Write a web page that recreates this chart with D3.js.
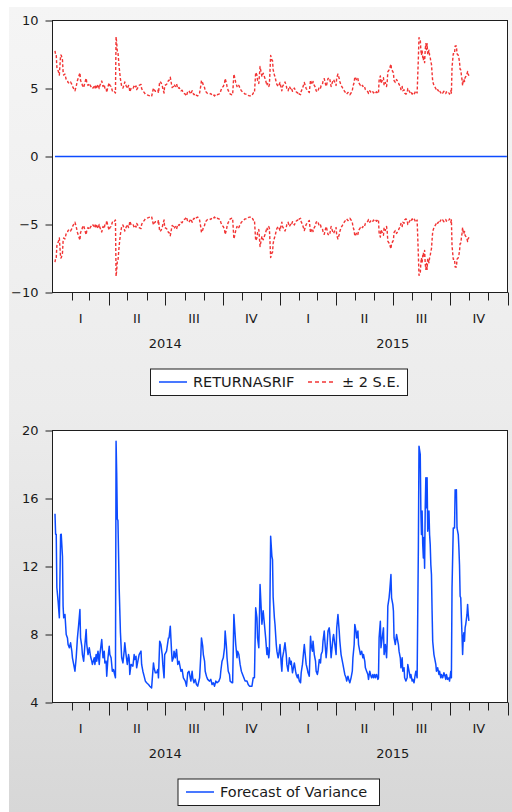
<!DOCTYPE html>
<html>
<head>
<meta charset="utf-8">
<script src="https://cdn.jsdelivr.net/npm/d3@7"></script>
<style>
body{margin:0;background:#fff;}
svg{display:block;}
text{font-family:"DejaVu Sans",sans-serif;fill:#1a1a1a;}
</style>
</head>
<body>
<div id="chart"></div>
<script>
var obsDay = [4,5,6,7,9,11,13,14,16,17,18,20,22,24,25,27,29,31,32,34,36,38,40,42,44,45,47,48,50,52,54,55,57,59,61,63,64,67,68,70,71,73,75,76,78,79,81,83,84,86,87,89,91,92,94,96,98,99,101,102,103,104,105,107,109,111,113,115,116,118,120,122,123,124,126,129,131,132,134,135,137,139,142,143,145,147,149,151,154,156,159,161,162,163,165,167,169,170,172,174,176,177,179,180,183,186,187,189,191,192,194,195,197,199,201,203,206,208,210,213,215,217,219,222,224,225,227,229,231,233,236,238,239,241,242,244,245,247,249,252,254,256,258,260,262,264,267,269,270,272,274,276,277,279,280,282,284,285,288,289,291,292,294,296,297,299,301,303,305,307,309,312,314,316,320,322,324,326,328,329,331,332,333,334,336,338,340,342,344,345,347,348,350,352,353,354,356,357,359,360,362,363,365,367,368,369,371,373,375,376,378,380,382,383,385,386,388,390,391,393,394,396,398,399,401,402,404,406,407,409,410,412,414,415,417,418,420,422,423,425,426,428,430,431,433,434,436,437,439,440,442,444,445,447,448,450,451,453,455,456,458,460,461,463,464,466,468,469,471,472,474,476,477,479,481,482,484,485,487,488,490,491,493,494,496,498,499,501,502,504,506,507,509,511,512,514,515,517,518,520,522,523,524,526,527,529,531,532,534,536,537,538,540,541,543,544,546,547,548,550,552,553,555,556,558,559,561,562,564,565,567,569,570,572,574,575,577,578,580,582,583,585,587,588,590,591,592,593,594,595,596,597,598,599,600,601,602,604,605,606,607,608,609,610,612,613,615,616,618,620,621,623,624,626,628,629,631,632,634,636,637,639,640,641,643,645,646,647,648,649,651,652,653,654,655,656,657,658,659,660,661,662,663,665,666,667,668];
var variance = [15.1,13.9,13.9,10.75,9.96,8.98,13.88,13.9,12.6,9.67,8.98,9.18,8.0,7.8,7.41,7.22,7.51,7.02,6.63,6.24,5.84,6.63,7.8,8.59,9.47,7.8,7.31,6.82,6.43,7.41,8.29,7.41,6.82,7.22,6.72,6.43,6.24,6.63,6.24,6.82,6.43,7.02,6.24,6.82,7.41,7.7,6.63,7.02,6.33,6.43,5.55,6.63,7.31,6.82,6.63,5.84,5.94,5.75,5.45,19.37,17.5,14.8,14.7,10.7,8.1,6.63,6.33,7.02,7.51,6.82,6.24,6.82,6.63,5.65,6.24,6.14,6.82,6.53,6.72,6.04,6.43,6.82,7.02,6.24,5.84,5.55,5.26,5.16,5.06,4.96,4.86,5.84,6.33,6.04,5.75,5.75,5.94,5.45,7.61,7.41,6.82,6.24,5.45,6.82,7.02,7.8,7.8,8.49,7.02,6.43,6.63,7.02,6.63,7.12,6.24,6.43,5.84,5.94,5.45,5.26,4.96,5.75,5.84,5.26,5.84,5.45,5.16,5.36,5.06,4.96,5.45,6.82,7.8,7.31,6.82,6.43,5.84,5.55,5.36,5.26,5.36,5.06,5.16,4.96,5.26,5.16,5.26,5.45,5.84,6.43,6.63,7.22,8.2,7.31,6.63,5.84,5.65,5.26,5.16,5.16,9.18,8.59,7.41,6.63,7.02,6.82,6.24,5.84,5.65,5.45,5.26,5.26,5.06,4.96,4.96,5.45,5.45,9.57,8.98,7.8,7.22,8.98,10.94,10.16,8.6,9.4,8.6,7.8,6.82,7.22,6.63,7.02,13.78,12.6,12.4,10.2,8.98,8.59,7.41,7.02,6.63,6.82,7.41,6.24,5.84,6.63,7.02,7.51,6.82,6.24,5.84,6.63,6.24,6.43,5.75,5.94,6.33,5.84,5.65,5.45,5.65,5.26,5.16,5.75,6.24,6.63,7.41,6.63,6.24,5.94,5.75,5.55,7.9,7.41,7.02,7.61,6.82,6.43,5.84,5.65,5.84,6.53,6.33,6.82,7.02,7.61,8.2,7.61,6.63,7.02,8.2,8.39,8.0,6.63,7.02,7.8,8.0,7.41,6.82,8.39,9.18,8.2,7.61,6.82,6.63,6.24,5.84,5.65,5.45,5.26,5.55,5.26,5.16,5.45,5.84,6.63,7.41,8.59,8.2,7.8,8.2,7.41,7.02,6.82,7.02,6.63,6.82,6.43,6.04,5.84,5.65,5.36,5.84,5.55,5.45,5.65,5.45,5.65,5.45,5.65,5.36,5.45,7.8,8.78,7.22,7.8,8.39,6.82,7.41,6.63,7.61,9.67,10.16,10.55,11.53,10.16,9.77,9.38,7.8,7.41,8.0,7.8,7.41,7.02,6.63,6.04,6.63,5.84,6.04,5.45,5.26,5.45,6.24,5.84,5.45,5.65,5.26,5.36,5.16,5.65,5.84,5.45,13.1,19.08,18.59,15.26,13.88,15.26,13.3,12.5,13.7,11.9,15.45,17.22,15.45,17.22,14.08,15.26,13.88,13.3,12.1,11.53,9.38,7.6,6.82,6.63,6.24,5.84,6.04,5.65,5.84,5.45,5.65,5.45,5.75,5.65,5.36,5.65,5.36,5.45,5.26,5.84,5.45,10.75,14.27,14.27,16.52,16.43,16.52,14.27,13.88,13.1,12.1,10.25,10.16,8.98,8.0,6.82,7.8,8.1,7.6,8.4,8.6,9.18,9.77,9.18,8.8];
// point forecast of RETURNASRIF (flat zero over the sample)
var meanDay = [4, 729];
var meanForecast = [0, 0];

var topTicks = [-10, -5, 0, 5, 10];
var bottomTicks = [4, 8, 12, 16, 20];
var quarterNames = ["I", "II", "III", "IV"];
var years = [2014, 2015];

var w = 512, h = 812;
var blue = "#0d4bff", red = "#f23434";

function dayDate(d) { return new Date(Date.UTC(2014, 0, 1) + d * 864e5); }

var svg = d3.select("#chart").append("svg")
  .attr("width", w)
  .attr("height", h);

var grad = svg.append("defs").append("linearGradient")
  .attr("id", "bg").attr("x1", 0).attr("y1", 0).attr("x2", 0).attr("y2", 1);
grad.append("stop").attr("offset", 0).attr("stop-color", "#f5f5f5");
grad.append("stop").attr("offset", 0.5).attr("stop-color", "#ececec");
grad.append("stop").attr("offset", 1).attr("stop-color", "#d7d7d7");

svg.append("rect")
  .attr("x", 9).attr("y", 7)
  .attr("width", w - 9).attr("height", h - 7)
  .attr("fill", "url(#bg)");

var x = d3.scaleUtc()
  .domain([new Date(Date.UTC(2014, 0, 1)), new Date(Date.UTC(2016, 0, 1))])
  .range([52.5, 507.5]);

// ±2 S.E. band of the forecast = ±2·sqrt(variance)
var seUpper = variance.map(function(v) { return 2 * Math.sqrt(v); });
var seLower = seUpper.map(function(v) { return -v; });

function panel(top, bottom, ticks) {
  var g = svg.append("g");
  var y = d3.scaleLinear().domain([ticks[0], ticks[ticks.length - 1]]).range([bottom, top]);

  g.append("rect")
    .attr("x", x.range()[0]).attr("y", top)
    .attr("width", x.range()[1] - x.range()[0]).attr("height", bottom - top)
    .attr("fill", "#fff")
    .attr("stroke", "#1e1e1e")
    .attr("stroke-width", 1);

  var ay = g.append("g")
    .attr("transform", "translate(" + x.range()[0] + ",0)")
    .call(d3.axisLeft(y).tickValues(ticks).tickSize(7).tickPadding(7).tickFormat(d3.format("d")));
  ay.select(".domain").remove();
  ay.selectAll("line").attr("stroke", "#1e1e1e");
  ay.selectAll("text").style("font-size", "13px").attr("fill", "#1a1a1a");

  // month ticks, longer at quarter starts
  var months = d3.utcMonth.range(new Date(Date.UTC(2014, 1, 1)), new Date(Date.UTC(2016, 0, 2)));
  g.selectAll(".mt")
    .data(months)
    .enter()
    .append("line")
    .attr("x1", function(d) { return Math.round(x(d)) + 0.5; })
    .attr("x2", function(d) { return Math.round(x(d)) + 0.5; })
    .attr("y1", bottom)
    .attr("y2", function(d) { return bottom + (d.getUTCMonth() % 3 == 0 ? 13 : 8); })
    .attr("stroke", "#1e1e1e");

  var quarters = [];
  years.forEach(function(yr) {
    quarterNames.forEach(function(q, i) {
      var a = Date.UTC(yr, i * 3, 1), b = Date.UTC(yr, i * 3 + 3, 1);
      quarters.push({ name: q, mid: new Date((a + b) / 2) });
    });
  });
  g.selectAll(".ql")
    .data(quarters)
    .enter()
    .append("text")
    .attr("x", function(d) { return x(d.mid); })
    .attr("y", bottom + 26)
    .attr("dy", "0.35em")
    .attr("text-anchor", "middle")
    .style("font-size", "13px")
    .text(function(d) { return d.name; });

  g.selectAll(".yl")
    .data(years)
    .enter()
    .append("text")
    .attr("x", function(d) { return x(new Date(Date.UTC(d, 6, 1))); })
    .attr("y", bottom + 50.5)
    .attr("dy", "0.35em")
    .attr("text-anchor", "middle")
    .style("font-size", "13px")
    .text(function(d) { return d; });

  return { g: g, y: y };
}

function series(p, days, vals, color, dash, width) {
  var line = d3.line()
    .x(function(d, i) { return x(dayDate(days[i])); })
    .y(function(d) { return p.y(d); });
  p.g.append("path")
    .datum(vals)
    .attr("d", line)
    .attr("fill", "none")
    .attr("stroke", color)
    .attr("stroke-width", width)
    .attr("stroke-dasharray", dash)
    .attr("stroke-linejoin", "round");
}

function legend(p, bottom, bx, bw, items) {
  var lg = p.g.append("g");
  lg.append("rect")
    .attr("x", bx + 0.5).attr("y", bottom + 76.5)
    .attr("width", bw).attr("height", 26.5)
    .attr("fill", "#fff")
    .attr("stroke", "#1e1e1e");
  var cy = bottom + 89.5;
  items.forEach(function(it) {
    lg.append("line")
      .attr("x1", it.x).attr("x2", it.x + 28)
      .attr("y1", cy).attr("y2", cy)
      .attr("stroke", it.color)
      .attr("stroke-width", 1.5)
      .attr("stroke-dasharray", it.dash);
    lg.append("text")
      .attr("x", it.x + 34).attr("y", cy)
      .attr("dy", "0.36em")
      .style("font-size", "14.5px")
      .text(it.label);
  });
}

// top panel: forecast of RETURNASRIF with ±2 S.E.
var p1 = panel(20.5, 292.5, topTicks);
series(p1, meanDay, meanForecast, blue, null, 1.6);
series(p1, obsDay, seUpper, red, "3,2", 1.4);
series(p1, obsDay, seLower, red, "3,2", 1.4);
legend(p1, 292.5, 150, 257, [
  { x: 159, color: blue, dash: null, label: "RETURNASRIF" },
  { x: 308, color: red, dash: "4,3", label: "\u00b1 2 S.E." }
]);

// bottom panel: forecast of variance
var p2 = panel(430.5, 702.5, bottomTicks);
series(p2, obsDay, variance, blue, null, 1.5);
legend(p2, 702.5, 177.5, 201.5, [
  { x: 186, color: blue, dash: null, label: "Forecast of Variance" }
]);
</script>
</body>
</html>
